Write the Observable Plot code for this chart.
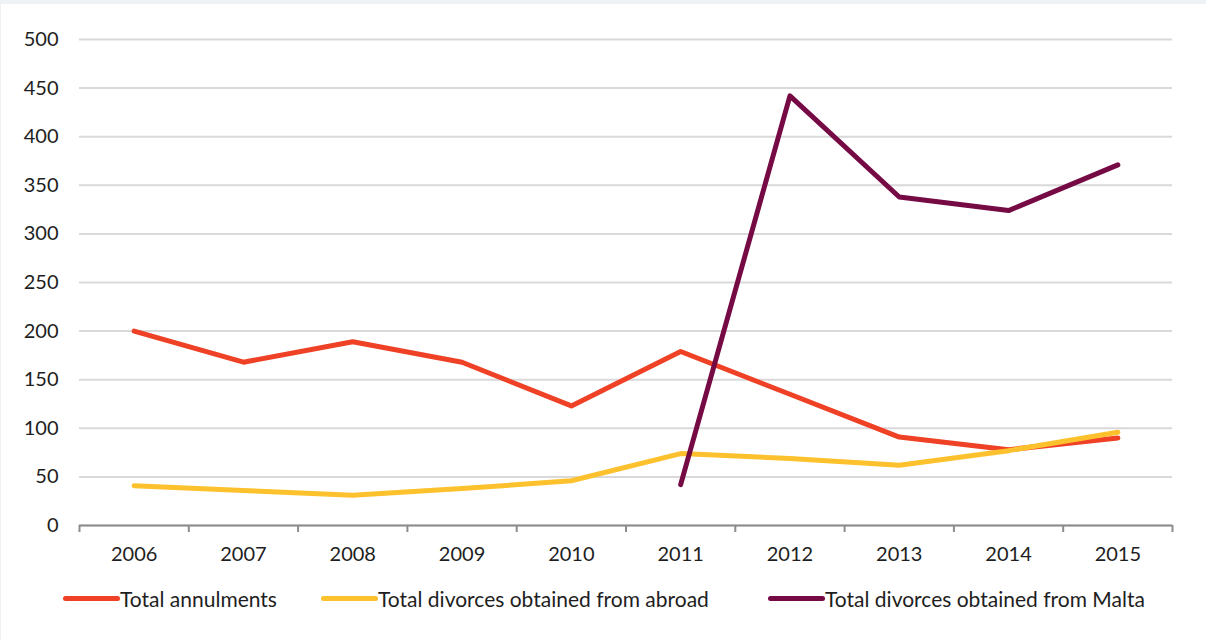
<!DOCTYPE html>
<html>
<head>
<meta charset="utf-8">
<script src="https://cdn.jsdelivr.net/npm/d3@7"></script>
<script src="https://cdn.jsdelivr.net/npm/@observablehq/plot@0.6"></script>
<style>
  html, body { margin: 0; padding: 0; background: #eef2f5; }
  #wrap { position: absolute; left: 1px; top: 4px; width: 1205px; height: 636px; background: #fff; font-family: Lato, "Noto Sans", sans-serif; }
  #chart { position: absolute; left: -1px; top: 0; }
  #legend { position: absolute; left: 62px; top: 582px; display: flex; font-size: 21px; color: #1e1e1e; }
  .item { display: flex; align-items: center; white-space: nowrap; }
  .sw { width: 57px; height: 5px; border-radius: 3px; }
</style>
</head>
<body>
<div id="wrap"><div id="chart"></div><div id="legend"></div></div>
<script>
const years = [2006, 2007, 2008, 2009, 2010, 2011, 2012, 2013, 2014, 2015];
const annulments = [200, 168, 189, 168, 123, 179, 135, 91, 78, 90];
const abroad = [41, 36, 31, 38, 46, 74, 69, 62, 77, 96];
const maltaYears = [2011, 2012, 2013, 2014, 2015];
const malta = [42, 442, 338, 324, 371];
const seriesNames = ["Total annulments", "Total divorces obtained from abroad", "Total divorces obtained from Malta"];
const colors = ["#ef4126", "#fcc12c", "#750a45"];
const yTicks = [0, 50, 100, 150, 200, 250, 300, 350, 400, 450, 500];

const data = [
  ...years.map((y, i) => ({year: y, value: annulments[i], series: seriesNames[0]})),
  ...years.map((y, i) => ({year: y, value: abroad[i], series: seriesNames[1]})),
  ...maltaYears.map((y, i) => ({year: y, value: malta[i], series: seriesNames[2]}))
];
const bounds = d3.range(years.length + 1).map(i => years[0] - 0.5 + i);

const chart = Plot.plot({
  width: 1206,
  height: 570,
  marginLeft: 79,
  marginRight: 34,
  marginTop: 35,
  marginBottom: 49,
  style: {fontFamily: "Lato, 'Noto Sans', sans-serif", fontSize: "20px", color: "#1e1e1e", background: "transparent"},
  x: {type: "linear", domain: [years[0] - 0.5, years[years.length - 1] + 0.5]},
  y: {domain: [0, 500]},
  color: {domain: seriesNames, range: colors},
  marks: [
    Plot.gridY(yTicks, {stroke: "#d9d9d9", strokeWidth: 2, strokeOpacity: 1}),
    Plot.axisY(yTicks, {tickSize: 0, tickPadding: 21, label: null, fontSize: 20, fill: "#1e1e1e"}),
    Plot.axisX(bounds, {tickSize: 7, tickFormat: () => "", stroke: "#8c8c8c", strokeWidth: 2, label: null}),
    Plot.axisX(years, {tickSize: 0, tickPadding: 21, tickFormat: d => String(d), label: null, fontSize: 20, fill: "#1e1e1e"}),
    Plot.ruleY([0], {stroke: "#8c8c8c", strokeWidth: 2}),
    Plot.line(data, {x: "year", y: "value", z: "series", stroke: "series", strokeWidth: 5, strokeLinejoin: "round"})
  ]
});
document.getElementById("chart").appendChild(chart);

const itemWidths = [258, 447, null];
const legend = document.getElementById("legend");
seriesNames.forEach((n, i) => {
  const it = document.createElement("div");
  it.className = "item";
  if (itemWidths[i]) it.style.width = itemWidths[i] + "px";
  const sw = document.createElement("div");
  sw.className = "sw";
  sw.style.background = colors[i];
  const t = document.createElement("span");
  t.textContent = n;
  it.appendChild(sw); it.appendChild(t);
  legend.appendChild(it);
});
</script>
</body>
</html>
